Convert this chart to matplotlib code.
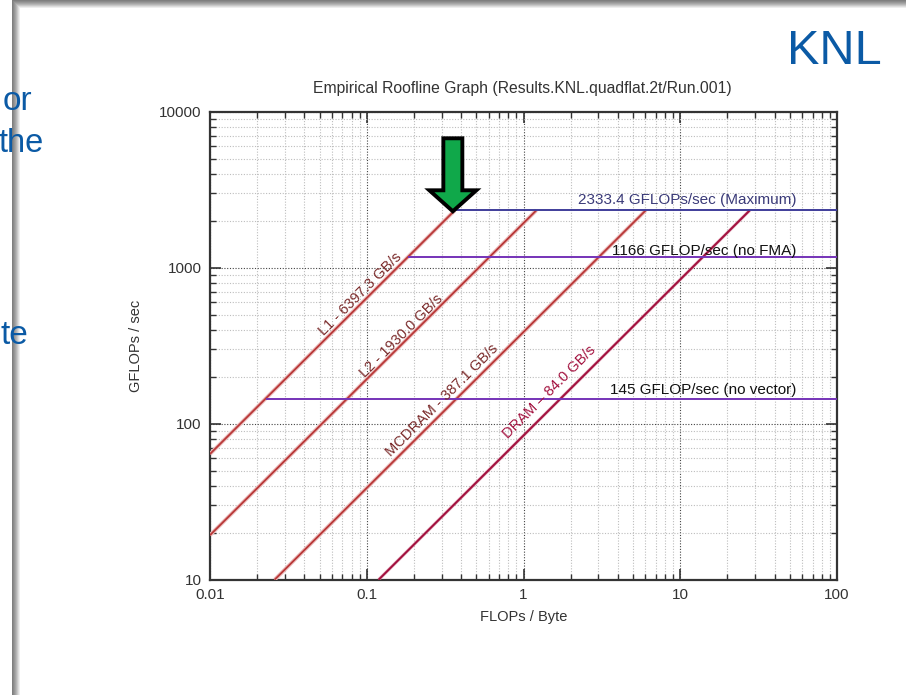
import numpy as np
import matplotlib
matplotlib.use("Agg")
import matplotlib.pyplot as plt
from matplotlib.patches import Rectangle, Polygon
from matplotlib.transforms import Affine2D
from matplotlib.ticker import LogLocator, FixedLocator, NullFormatter

plt.rcParams['font.family'] = ['Liberation Sans', 'DejaVu Sans']

# ---- data ----
bw_names = ["L1", "L2", "MCDRAM", "DRAM"]
bw_values = [6397.3, 1930.0, 387.1, 84.0]
bw_label_x = [0.0908, 0.166, 0.3037, 1.466]
bw_label_y = [678, 365, 142, 159.6]

ceiling_values = [2333.4, 1166, 145]
ceiling_labels = ["2333.4 GFLOPs/sec (Maximum)",
                  "1166 GFLOP/sec (no FMA)",
                  "145 GFLOP/sec (no vector)"]
ceiling_label_y = [2700, 1280, 165]

x_ticks = [0.01, 0.1, 1, 10, 100]
x_ticklabels = ["0.01", "0.1", "1", "10", "100"]
y_ticks = [10, 100, 1000, 10000]
y_ticklabels = ["10", "100", "1000", "10000"]

title = "Empirical Roofline Graph (Results.KNL.quadflat.2t/Run.001)"

W, H = 906, 695
fig = plt.figure(figsize=(W / 100, H / 100), dpi=100)
fig.patch.set_facecolor("white")

# slide frame
grays = ["#7f7f7f", "#8a8a8a", "#979797", "#a5a5a5", "#b5b5b5", "#c8c8c8", "#dcdcdc", "#eeeeee"]
for i, g in enumerate(grays):
    fig.add_artist(Rectangle(((12) / W, 1 - (i + 1) / H), 1, 1 / H,
                             transform=fig.transFigure, color=g, lw=0, zorder=0))
for i, g in enumerate(grays):
    fig.add_artist(Rectangle(((12 + i) / W, 0), 1 / W, 1 - i / H,
                             transform=fig.transFigure, color=g, lw=0, zorder=0))

blue = "#0B5AA5"
fig.text(882 / W, 1 - 51 / H, "KNL", color=blue, fontsize=35, ha="right", va="center")
fig.text(32 / W, 1 - 101 / H, "or", color=blue, fontsize=24, ha="right", va="center", zorder=5)
fig.text(44 / W, 1 - 143 / H, "the", color=blue, fontsize=23.5, ha="right", va="center", zorder=5)
fig.text(28 / W, 1 - 336 / H, "te", color=blue, fontsize=24, ha="right", va="center", zorder=5)

# axes
left, right, top, bottom = 210, 837, 111.7, 579.7
ax = fig.add_axes([left / W, 1 - bottom / H, (right - left) / W, (bottom - top) / H])
ax.set_xscale("log")
ax.set_yscale("log")
ax.set_xlim(0.01, 100)
ax.set_ylim(10, 10000)

ax.xaxis.set_major_locator(FixedLocator(x_ticks))
ax.yaxis.set_major_locator(FixedLocator(y_ticks))
ax.set_xticklabels(x_ticklabels)
ax.set_yticklabels(y_ticklabels)
ax.xaxis.set_minor_locator(LogLocator(base=10, subs=np.arange(2, 10)))
ax.yaxis.set_minor_locator(LogLocator(base=10, subs=np.arange(2, 10)))
ax.xaxis.set_minor_formatter(NullFormatter())
ax.yaxis.set_minor_formatter(NullFormatter())

ax.tick_params(which="major", direction="in", length=8, width=1.2, top=True, right=True,
               labelsize=11, colors="#333333", pad=6)
ax.tick_params(which="minor", direction="in", length=4, width=1.0, top=True, right=True,
               colors="#333333")
for s in ax.spines.values():
    s.set_color("#333333")
    s.set_linewidth(1.6)

ax.grid(which="major", linestyle=(0, (1, 1.5)), color="#444444", lw=0.8)
ax.grid(which="minor", linestyle=(0, (1, 1.5)), color="#bdbdbd", lw=0.8)
ax.set_axisbelow(True)

peak = max(ceiling_values)
# bandwidth lines
for i, (name, bw) in enumerate(zip(bw_names, bw_values)):
    x0 = max(0.01, 10 / bw)
    x1 = peak / bw
    xs = np.array([x0, x1])
    ys = bw * xs
    if name == "DRAM":
        col = "#A3123F"
        ax.plot(xs, ys, color="#dd9aae", lw=2.4, alpha=0.6, solid_capstyle="butt", zorder=3)
        ax.plot(xs, ys, color=col, lw=1.5, solid_capstyle="butt", zorder=4)
        tcol = "#A3123F"
    else:
        col = "#B83838"
        ax.plot(xs, ys, color="#ecbcbc", lw=2.8, solid_capstyle="butt", zorder=3)
        ax.plot(xs, ys, color=col, lw=1.3, solid_capstyle="butt", zorder=4)
        tcol = "#7a2a2a"
    sep = " \u2013 " if name == "DRAM" else " - "
    ax.text(bw_label_x[i], bw_label_y[i], f"{name}{sep}{bw:.1f} GB/s", rotation=45,
            rotation_mode="anchor", ha="center", va="center", fontsize=10.5, color=tcol, zorder=5)

# ceilings
ceil_colors = ["#3F3D9A", "#7533B8", "#7533B8"]
ceil_tcolors = ["#3a3a78", "#111111", "#111111"]
for i, c in enumerate(ceiling_values):
    x0 = c / bw_values[0]
    ax.plot([x0, 100], [c, c], color=ceil_colors[i], lw=1.4, zorder=4, solid_capstyle="butt")
    ax.text(55, ceiling_label_y[i], ceiling_labels[i], ha="right", va="center",
            fontsize=11, color=ceil_tcolors[i], zorder=5)

ax.set_xlabel("FLOPs / Byte", fontsize=10.5, color="#333333", labelpad=6)
ax.set_ylabel("GFLOPs / sec", fontsize=10.5, color="#333333", labelpad=12)
fig.text(522 / W, 1 - 88 / H, title, ha="center", va="center", fontsize=11.3, color="#333333")

# green arrow pointing at the peak/L1 ridge point
tip = ax.transData.transform((peak / bw_values[0], peak))
verts = np.array([[0, 0], [23.5, 21], [9.5, 21], [9.5, 73], [-9.5, 73], [-9.5, 21], [-23.5, 21]])
arrow = Polygon(verts, closed=True, facecolor="#10A84A", edgecolor="black", lw=2.8,
                joinstyle="miter", transform=Affine2D().translate(tip[0] - 2, tip[1] - 1),
                zorder=10)
fig.add_artist(arrow)

fig.savefig("out.png", dpi=100)
